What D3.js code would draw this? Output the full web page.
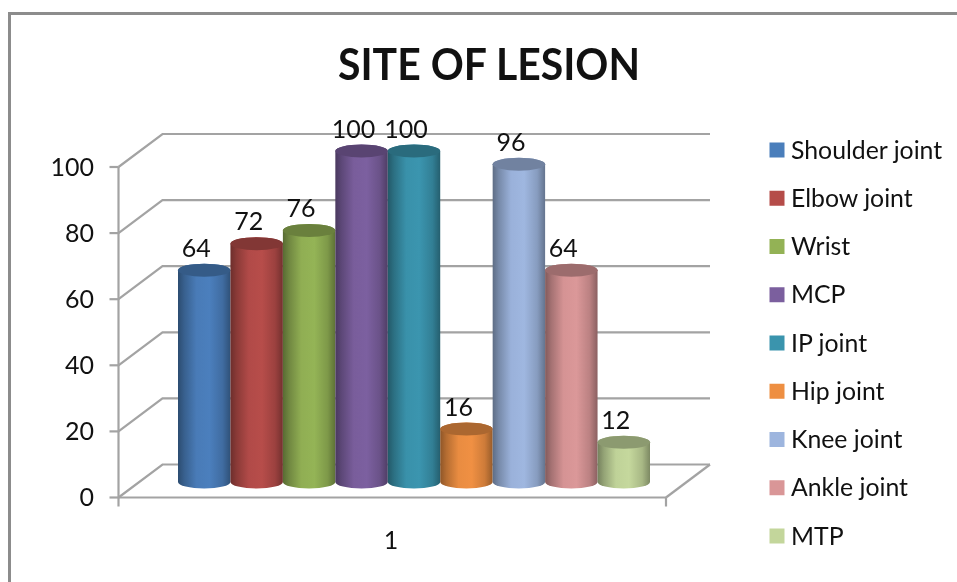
<!DOCTYPE html>
<html><head><meta charset="utf-8">
<script src="https://cdnjs.cloudflare.com/ajax/libs/d3/7.8.5/d3.min.js"></script>
<style>
html,body{margin:0;padding:0;background:#fff;}
svg{display:block;}
text{font-family:Lato,"Open Sans",sans-serif;fill:#111;}
</style></head><body>
<div id="chart"></div>
<script>
const categories = ["Shoulder joint","Elbow joint","Wrist","MCP","IP joint","Hip joint","Knee joint","Ankle joint","MTP"];
const values = [64,72,76,100,100,16,96,64,12];
const seriesColors = ["#4a7ebb","#b54c49","#93b255","#7b5f9e","#3a94ad","#ee8f42","#9db5de","#d99697","#c3d69b"];
const yTicks = [0,20,40,60,80,100];
const xLabel = "1";
const titleText = "SITE OF LESION";

const W=957,H=582;
const svg=d3.select("#chart").append("svg").attr("width",W).attr("height",H).style("filter","blur(0.5px)");
const defs=svg.append("defs");

// frame
svg.append("path").attr("d",`M9.5,${H+5} V13.5 H${W+5}`).attr("fill","none").attr("stroke","#8c8c8c").attr("stroke-width",3);

// 3D geometry
const depth={dx:44,dy:-33};
const yFront=d3.scaleLinear().domain([0,100]).range([497.5,167]);
const yBar=d3.scaleLinear().domain([0,100]).range([482,151]);
const xBand=d3.scaleBand().domain(categories).range([178,650]);
const frontL=118.5,frontR=666;
const grid="#a3a3a3";
const g=svg.append("g").attr("fill","none").attr("stroke",grid).attr("stroke-width",2.2);

yTicks.forEach(t=>{
  const y=yFront(t);
  g.append("path").attr("d",`M${frontL},${y} L${frontL+depth.dx},${y+depth.dy} H${frontR+depth.dx}`);
  g.append("line").attr("x1",frontL-9).attr("x2",frontL).attr("y1",y).attr("y2",y);
});
// axes
g.append("line").attr("x1",frontL).attr("x2",frontL).attr("y1",yFront(100)).attr("y2",yFront(0)+9);
g.append("line").attr("x1",frontL).attr("x2",frontR).attr("y1",yFront(0)).attr("y2",yFront(0));
g.append("line").attr("x1",frontR).attr("x2",frontR).attr("y1",yFront(0)).attr("y2",yFront(0)+9);
g.append("line").attr("x1",frontR).attr("x2",frontR+depth.dx).attr("y1",yFront(0)).attr("y2",yFront(0)+depth.dy);

// y tick labels
svg.append("g").selectAll("text").data(yTicks).join("text")
  .attr("x",94).attr("y",d=>yFront(d)).attr("dy","0.35em").attr("text-anchor","end")
  .attr("font-size",25).text(d=>d);

// gradients
categories.forEach((c,i)=>{
  const col=d3.color(seriesColors[i]);
  const gr=defs.append("linearGradient").attr("id","grad"+i);
  [[0,0.6],[0.12,0.76],[0.35,0.98],[0.6,1.01],[0.85,0.86],[1,0.64]].forEach(([o,k])=>{
    gr.append("stop").attr("offset",o).attr("stop-color",d3.rgb(col.r*k,col.g*k,col.b*k));
  });
});

// bars (drawn left to right)
const ry=6.5;
const bars=svg.append("g").selectAll("g").data(categories.map((c,i)=>({c,v:values[i],i}))).join("g");
bars.append("path")
  .attr("fill",d=>`url(#grad${d.i})`)
  .attr("d",d=>{
    const x0=xBand(d.c),rx=xBand.bandwidth()/2,x1=x0+2*rx;
    return `M${x0},${yBar(d.v)} V${yBar(0)} A${rx},${ry} 0 0 0 ${x1},${yBar(0)} V${yBar(d.v)} A${rx},${ry} 0 0 0 ${x0},${yBar(d.v)} Z`;
  });
bars.append("ellipse")
  .attr("cx",d=>xBand(d.c)+xBand.bandwidth()/2).attr("cy",d=>yBar(d.v))
  .attr("rx",xBand.bandwidth()/2).attr("ry",ry)
  .attr("fill",d=>{const c=d3.color(seriesColors[d.i]);return d3.rgb(c.r*.72,c.g*.72,c.b*.72);});
bars.append("text")
  .attr("x",d=>xBand(d.c)+xBand.bandwidth()/2-8).attr("y",d=>yBar(d.v)-22)
  .attr("dy","0.35em").attr("text-anchor","middle").attr("font-size",25).text(d=>d.v);

// x label
svg.append("text").attr("x",391).attr("y",540).attr("dy","0.35em").attr("text-anchor","middle").attr("font-size",25).text(xLabel);

// title
svg.append("text").attr("x",489).attr("y",65).attr("dy","0.35em").attr("text-anchor","middle")
  .attr("font-size",43).attr("font-weight",700).attr("textLength",302).attr("lengthAdjust","spacingAndGlyphs").text(titleText);

// legend
const legY=d3.scalePoint().domain(categories).range([150,536]);
const leg=svg.append("g").selectAll("g").data(categories).join("g").attr("transform",d=>`translate(0,${legY(d)})`);
leg.append("rect").attr("x",769.5).attr("y",-7.5).attr("width",15).attr("height",15).attr("fill",(d,i)=>seriesColors[i]);
leg.append("text").attr("x",791).attr("dy","0.35em").attr("font-size",24.8).text(d=>d);
</script>
</body></html>
